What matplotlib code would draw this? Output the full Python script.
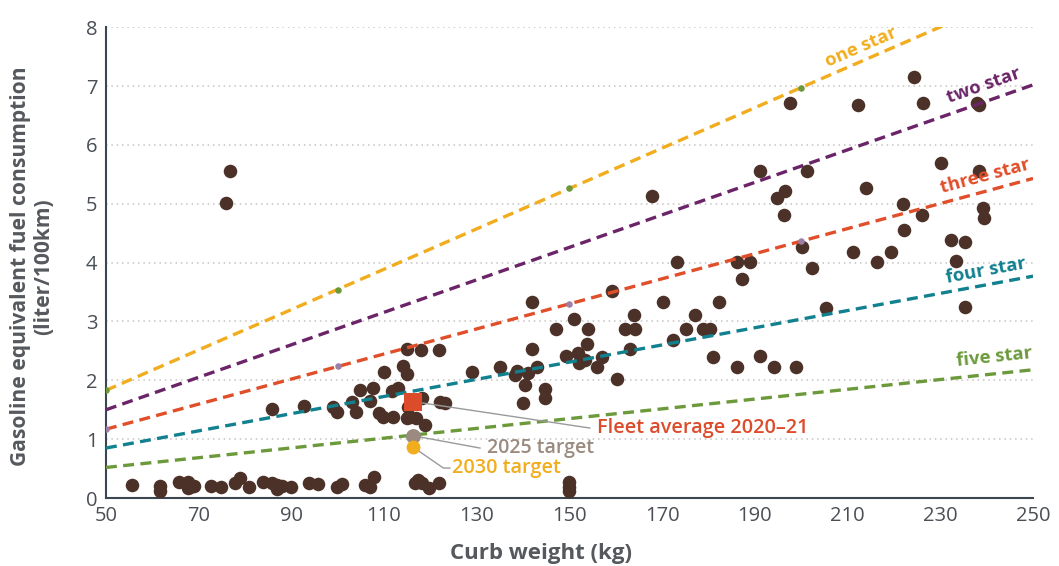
import matplotlib
matplotlib.use("Agg")
import matplotlib.pyplot as plt
import numpy as np

plt.rcParams['font.family'] = ['Open Sans', 'DejaVu Sans']

# Models: curb weight (kg) and fuel consumption (l/100km)
curb_weight = [
    55.6, 61.7, 61.7, 65.7, 67.7, 68.1, 69.0, 67.7, 72.7, 74.8, 77.8, 78.9,
    80.9, 83.9, 85.8, 86.9, 88.0, 86.9, 89.9, 93.8, 95.7, 99.8, 100.9, 105.9,
    107.0, 107.8, 116.7, 117.3, 118.2, 119.7, 121.8, 149.9, 149.9, 149.9,
    92.7, 85.8, 99.0, 99.8, 103.1, 103.9, 104.8, 107.0, 107.6, 108.9, 109.8,
    110.0, 111.9, 111.7, 113.0, 114.1, 114.9, 114.9, 118.0, 121.8, 115.2,
    115.6, 116.9, 118.2, 118.8, 114.9, 122.1, 123.1, 129.0, 135.0, 138.7,
    138.2, 141.0, 143.0, 140.4, 140.0, 144.7, 144.7,
    141.9, 151.0, 147.1, 154.0, 153.8, 141.9, 149.2, 151.8, 152.0, 153.3,
    157.0, 155.9, 160.2, 159.2, 163.9, 162.0, 164.1, 163.1, 167.8, 170.2,
    172.3, 173.2, 175.1, 177.1, 178.8, 180.3, 181.0, 182.3, 186.1, 188.9,
    187.2, 186.1, 191.1, 194.1, 198.9, 191.1, 196.5, 194.8, 196.3, 197.6,
    201.2, 200.2, 202.3, 205.3, 211.2, 212.2, 214.0, 216.3, 219.4, 222.0,
    222.2, 224.3, 226.0, 226.3, 230.1, 232.3, 233.4, 235.3, 235.3, 238.0,
    238.3, 238.3, 239.2, 239.4, 76.8, 75.9,
]
fuel_use = [
    0.22, 0.20, 0.12, 0.27, 0.27, 0.19, 0.20, 0.17, 0.20, 0.19, 0.26, 0.34,
    0.19, 0.27, 0.26, 0.22, 0.20, 0.15, 0.19, 0.26, 0.24, 0.19, 0.24, 0.22,
    0.19, 0.36, 0.26, 0.31, 0.26, 0.17, 0.26, 0.27, 0.19, 0.12,
    1.56, 1.51, 1.55, 1.46, 1.63, 1.46, 1.84, 1.65, 1.87, 1.45, 1.38,
    2.14, 1.38, 1.82, 1.87, 2.24, 2.11, 2.53, 2.52, 2.52, 1.55,
    1.38, 1.36, 1.70, 1.24, 1.36, 1.63, 1.62, 2.14, 2.23, 2.16,
    2.09, 2.13, 2.23, 1.92, 1.62, 1.85, 1.70,
    3.33, 3.04, 2.87, 2.87, 2.62, 2.53, 2.41, 2.47, 2.30, 2.35,
    2.40, 2.23, 2.02, 3.52, 3.11, 2.87, 2.87, 2.53, 5.14, 3.33,
    2.69, 4.01, 2.87, 3.11, 2.87, 2.87, 2.40, 3.33, 4.01, 4.01,
    3.72, 2.23, 2.41, 2.23, 2.23, 5.56, 5.22, 5.09, 4.81, 6.72,
    5.56, 4.27, 3.91, 3.23, 4.18, 6.67, 5.26, 4.01, 4.18, 5.00,
    4.56, 7.16, 4.81, 6.72, 5.70, 4.39, 4.03, 4.35, 3.25, 6.72,
    6.67, 5.56, 4.93, 4.76, 5.56, 5.01,
]

# Star rating lines: value at 50 kg and at 250 kg
star_names = ["one star", "two star", "three star", "four star", "five star"]
star_y50 = [1.83, 1.50, 1.17, 0.85, 0.52]
star_y250 = [8.69, 7.02, 5.43, 3.77, 2.18]
star_colors = ["#f1ad1d", "#6b2468", "#e04e2a", "#11808f", "#6c9a3b"]
# label anchor = left end of the text baseline
label_x = [205.8, 231.9, 230.4, 231.4, 233.6]
label_y = [7.33, 6.72, 5.19, 3.66, 2.24]

# small reference markers sitting on one star / three star lines
ref_x = [50, 100, 150, 200]
one_star_ref = [1.83, 3.54, 5.26, 6.97]
three_star_ref = [1.17, 2.24, 3.30, 4.36]

# fleet average and targets
target_x = 116.2
fleet_avg = 1.64
target_2025 = 1.06
target_2030 = 0.87

fig = plt.figure(figsize=(10.59, 5.66), dpi=100)
ax = fig.add_axes([0.100, 0.120, 0.8755, 0.832])

ax.set_xlim(50, 250)
ax.set_ylim(0, 8)

# dotted grid
for gy in range(1, 9):
    ax.axhline(gy, color="#c4c4c4", lw=1.1, ls=(0, (1, 2.5)), zorder=0)

ax.scatter(curb_weight, fuel_use, s=95, color="#4b3127", lw=0, zorder=3)

for name, y0, y1, col, lx, ly in zip(star_names, star_y50, star_y250, star_colors, label_x, label_y):
    ax.plot([50, 250], [y0, y1], color=col, lw=2.4, dashes=(3.3, 1.9), zorder=4)
    # rotate label along line in screen space
    p0 = ax.transData.transform((50, y0))
    p1 = ax.transData.transform((250, y1))
    ang = np.degrees(np.arctan2(p1[1] - p0[1], p1[0] - p0[0]))
    ax.text(lx, ly, name, color=col, fontsize=13.3, fontweight="bold",
            rotation=ang, rotation_mode="anchor", ha="left", va="baseline", zorder=6)

ax.scatter(ref_x, one_star_ref, s=22, color="#6c9a3b", lw=0, zorder=5)
ax.scatter(ref_x, three_star_ref, s=22, color="#9c7fa6", lw=0, zorder=5)

# fleet average and targets
ax.scatter([target_x], [fleet_avg], s=150, marker="s", color="#dc4c2b", lw=0, zorder=6)
ax.scatter([target_x], [target_2025], s=115, color="#9a8a7f", lw=0, zorder=6)
ax.scatter([target_x], [target_2030], s=100, color="#f1ad1d", lw=0, zorder=6)

ax.plot([target_x, 154.4], [fleet_avg, 1.19], color="#9a9a9a", lw=1.0, zorder=5)
ax.text(155.9, 1.19, "Fleet average 2020\u201321", color="#dc4c2b", fontsize=14.3,
        fontweight="semibold", ha="left", va="center", zorder=7)
ax.plot([target_x, 130.7], [target_2025, 0.85], color="#9a9a9a", lw=1.0, zorder=5)
ax.text(132.2, 0.85, "2025 target", color="#9a8a7f", fontsize=14,
        fontweight="semibold", ha="left", va="center", zorder=7)
ax.plot([target_x, 122.8, 124.2], [target_2030, 0.51, 0.51], color="#9a9a9a", lw=1.0, zorder=5)
ax.text(124.6, 0.51, "2030 target", color="#f1ad1d", fontsize=14.3,
        fontweight="semibold", ha="left", va="center", zorder=7)

ax.set_xticks(range(50, 251, 20))
ax.set_yticks(range(0, 9))
ax.tick_params(length=0, labelsize=14.5, labelcolor="#4a4f55", pad=6)
for side in ["top", "right"]:
    ax.spines[side].set_visible(False)
for side in ["left", "bottom"]:
    ax.spines[side].set_color("#3c4650")
    ax.spines[side].set_linewidth(1.5)

ax.set_xlabel("Curb weight (kg)", fontsize=16, fontweight="bold", color="#55585c")
ax.xaxis.set_label_coords(0.469, -0.095)
ax.set_ylabel("Gasoline equivalent fuel consumption\n(liter/100km)", fontsize=15.1,
              fontweight="bold", color="#55585c", linespacing=1.15)
ax.yaxis.set_label_coords(-0.056, 0.492)

fig.savefig("out.png", dpi=100)
